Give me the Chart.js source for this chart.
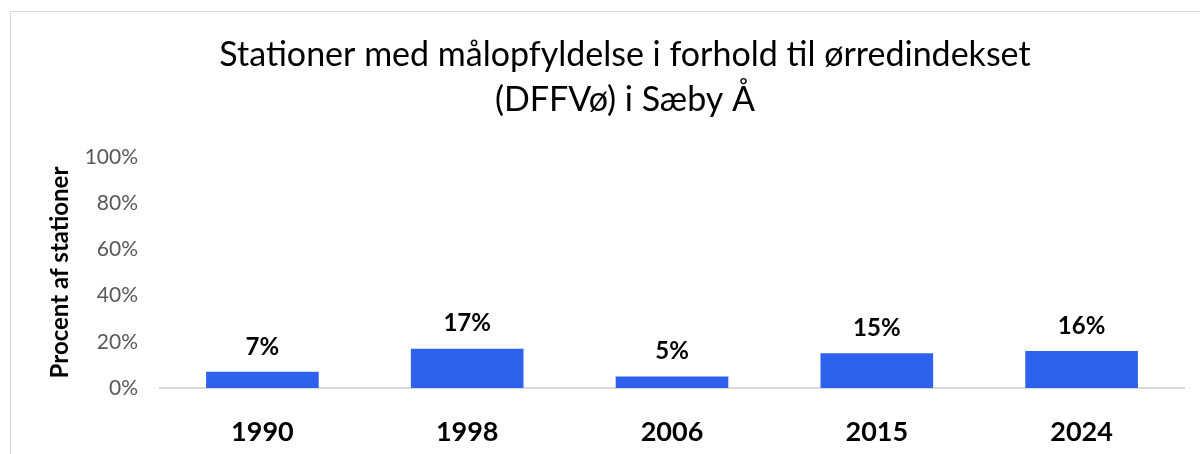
<!DOCTYPE html>
<html>
<head>
<meta charset="utf-8">
<script src="https://cdn.jsdelivr.net/npm/chart.js@4/dist/chart.umd.min.js"></script>
<style>
    body { margin: 0; background: #fff; overflow: hidden; }
    #frame {
        position: absolute; left: 10px; top: 11px;
        width: 1300px; height: 600px;
        border: 1px solid #d9d9d9;
    }
    #wrap { position: absolute; left: 0; top: 0; width: 1200px; height: 454px; }
</style>
</head>
<body>
<div id="frame"></div>
<div id="wrap"><canvas id="myChart" width="1200" height="454"></canvas></div>
<script>
"use strict";

const years = ['1990', '1998', '2006', '2015', '2024'];
const percentages = [7, 17, 5, 15, 16];
const yTicks = [0, 20, 40, 60, 80, 100];
const titleLines = [
    'Stationer med målopfyldelse i forhold til ørredindekset',
    '(DFFVø) i Sæby Å'
];
const yAxisTitle = 'Procent af stationer';

const FONT = 'Lato, "Open Sans", sans-serif';
const barColor = '#2E61EC';

// title drawn by hand so it can sit off-centre like the original
const titlePlugin = {
    id: 'twoLineTitle',
    afterDraw(chart) {
        const ctx = chart.ctx;
        ctx.save();
        ctx.fillStyle = '#000';
        ctx.font = '34px ' + FONT;
        ctx.textAlign = 'center';
        ctx.textBaseline = 'alphabetic';
        ctx.fillText(titleLines[0], 625, 66);
        ctx.fillText(titleLines[1], 625, 111);
        ctx.restore();
    }
};

const valueLabels = {
    id: 'valueLabels',
    afterDatasetsDraw(chart) {
        const ctx = chart.ctx;
        const meta = chart.getDatasetMeta(0);
        ctx.save();
        ctx.fillStyle = '#000';
        ctx.font = 'bold 24px ' + FONT;
        ctx.textAlign = 'center';
        ctx.textBaseline = 'middle';
        meta.data.forEach((bar, i) => {
            ctx.fillText(percentages[i] + '%', bar.x, bar.y - 25);
        });
        ctx.restore();
    }
};

function createConfig() {
    return {
        type: 'bar',
        data: {
            labels: years,
            datasets: [{
                data: percentages,
                backgroundColor: barColor,
                borderWidth: 0,
                categoryPercentage: 1,
                barPercentage: 0.55,
            }]
        },
        options: {
            responsive: false,
            animation: false,
            layout: { padding: { top: 157, right: 16, left: 0, bottom: 0 } },
            plugins: {
                legend: { display: false },
                tooltip: { enabled: false },
                title: { display: false },
            },
            scales: {
                x: {
                    grid: { display: false },
                    border: { color: '#d9d9d9', width: 2 },
                    ticks: {
                        color: '#000',
                        font: { family: FONT, size: 27, weight: 'bold' },
                        padding: 20,
                    },
                    afterFit(scale) { scale.height = 66; },
                },
                y: {
                    min: 0,
                    max: 100,
                    afterBuildTicks(scale) {
                        scale.ticks = yTicks.map(v => ({ value: v }));
                    },
                    grid: { display: false },
                    border: { display: false },
                    ticks: {
                        color: '#595959',
                        font: { family: FONT, size: 21 },
                        padding: 14,
                        callback: v => v + '%',
                    },
                    title: {
                        display: true,
                        text: yAxisTitle,
                        color: '#000',
                        font: { family: FONT, size: 24, weight: 'bold' },
                        padding: { top: 46, bottom: 0 },
                    },
                    afterFit(scale) { scale.width = 160; },
                }
            }
        },
        plugins: [titlePlugin, valueLabels]
    };
}

new Chart(document.getElementById('myChart'), createConfig());
</script>
</body>
</html>
